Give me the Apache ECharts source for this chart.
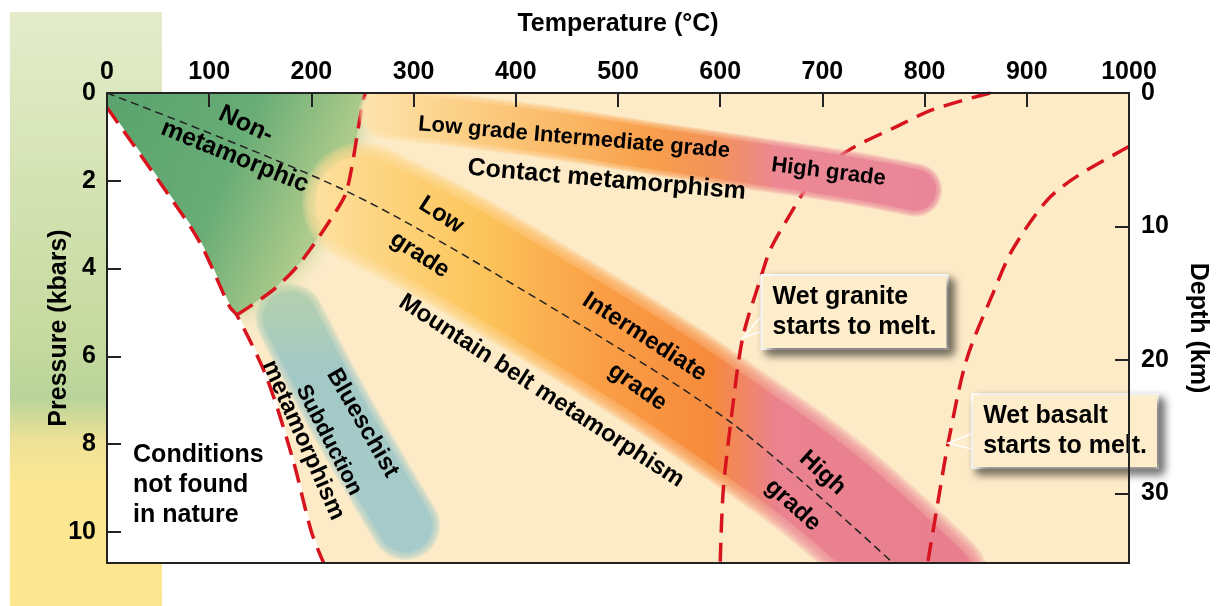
<!DOCTYPE html>
<html>
<head>
<meta charset="utf-8">
<title>Metamorphic conditions</title>
<script src="https://cdn.jsdelivr.net/npm/echarts@6/dist/echarts.min.js"></script>
<style>
  html, body { margin: 0; padding: 0; background: #fff; overflow: hidden; }
  #chart { width: 1216px; height: 606px; }
</style>
</head>
<body>
<div id="chart"></div>
<script>
// temperature (°C), pressure (kbar) pairs
const subductionEdge = [[0, 0.33], [59, 2.28], [91, 3.41], [120, 4.87], [127, 5.06], [156, 6.47], [182, 8.36], [200, 10.0], [212, 10.71]];
const nonMetaArc = [[127, 5.06], [163, 4.48], [189, 3.87], [225, 2.66], [235, 2.2], [249, 0.38], [253, 0]];
const wetGranite = [[864, 0], [808, 0.38], [773, 0.76], [724, 1.33], [690, 2.0], [665, 2.9], [649, 3.57], [639, 4.26], [622, 5.58], [611, 7.38], [603, 9.05], [600, 10.71]];
const wetBasalt = [[1000, 1.22], [949, 1.9], [920, 2.44], [886, 3.57], [867, 4.56], [841, 6.08], [823, 7.98], [815, 9.05], [803, 10.71]];
const geotherm = [[0, 0], [231, 2.2], [411, 4.55], [610, 7.5], [769, 10.71]];
const contactBand = [[272, 0.45], [336, 0.61], [433, 0.9], [531, 1.25], [629, 1.59], [727, 1.93], [791, 2.21]];
const mountainBand = [[250, 2.5], [330, 3.45], [411, 4.55], [520, 6.1], [610, 7.5], [705, 9.1], [805, 11.2]];
const blueschistBand = [[179, 5.13], [218, 6.88], [257, 8.48], [292, 9.85]];

// text on the diagram
const noteText = ['Non-', 'metamorphic', 'Low grade Intermediate grade', 'High grade', 'Contact metamorphism',
  'Low', 'grade', 'Intermediate', 'grade', 'Mountain belt metamorphism', 'High', 'grade',
  'Blueschist', 'Subduction', 'metamorphism'];
const notePos = [[136, 0.72], [125, 1.45], [457, 1.02], [706, 1.8], [489, 1.98],
  [327, 2.78], [306, 3.69], [526, 5.56], [519, 6.7], [425, 6.79], [700, 8.66], [671, 9.39],
  [250, 7.52], [217, 7.91], [192, 7.91]];
const noteAngle = [-25, -22, -5, -7, -5, -33, -33, -33, -35, -33, -42, -42, -60, -63, -66];
const noteSize = [25, 25, 22, 22, 25, 24, 24, 24, 24, 24, 24, 24, 24, 22, 24];
const conditionsText = 'Conditions\nnot found\nin nature';
const conditionsPos = [25, 8.93];

// callouts
const calloutText = ['Wet granite\nstarts to melt.', 'Wet basalt\nstarts to melt.'];
const calloutAnchor = [[641, 4.99], [847, 7.71]];
const calloutTip = [[622, 5.58], [823, 7.98]];

const FONT = '"Liberation Sans", Arial, Helvetica, sans-serif';
const INK = '#000000';
const RED = '#d7141d';

const chart = echarts.init(document.getElementById('chart'));
const G = echarts.graphic;

// 多边形 (数据坐标)
function polygonSeries(points, style, z) {
  return {
    type: 'custom', coordinateSystem: 'cartesian2d', silent: true, clip: true, z: z,
    data: [0],
    renderItem: (params, api) => ({
      type: 'polygon',
      shape: { points: points.map(p => api.coord(p)) },
      style: style
    })
  };
}

// 模糊的宽带: 外圈叠几层半透明, 中间实心
function bandSeries(data, width, color, z) {
  return {
    type: 'custom', coordinateSystem: 'cartesian2d', silent: true, clip: true, z: z,
    data: [0],
    renderItem: (params, api) => {
      const pts = data.map(p => api.coord(p));
      const children = [];
      const steps = 7;
      for (let k = 0; k < steps; k++) {
        children.push({
          type: 'polyline', shape: { points: pts, smooth: 0.4 },
          style: {
            fill: 'none', stroke: color, opacity: 0.22, lineCap: 'round', lineJoin: 'round',
            lineWidth: width * (1.16 - 0.24 * k / (steps - 1))
          }
        });
      }
      children.push({
        type: 'polyline', shape: { points: pts, smooth: 0.4 },
        style: { fill: 'none', stroke: color, lineWidth: width * 0.9, lineCap: 'round', lineJoin: 'round' }
      });
      return { type: 'group', children: children };
    }
  };
}

function dashed(data, z, extra) {
  return Object.assign({
    type: 'line', data: data, smooth: 0.3, showSymbol: false, silent: true, z: z,
    lineStyle: { color: RED, width: 3.5, type: [19, 10] }
  }, extra || {});
}

const greenFill = new G.LinearGradient(0, 0, 1, 0.5, [
  { offset: 0, color: '#5aa36c' }, { offset: 0.5, color: '#68ac76' },
  { offset: 0.78, color: '#9ec486' }, { offset: 1, color: '#c7d797' }
]);
const contactColor = new G.LinearGradient(0, 0, 1, 0, [
  { offset: 0, color: '#fde3ad' }, { offset: 0.15, color: '#fcd28a' },
  { offset: 0.35, color: '#fab866' }, { offset: 0.5, color: '#f89f4b' },
  { offset: 0.62, color: '#f3925c' }, { offset: 0.72, color: '#ec8893' },
  { offset: 1, color: '#e9879a' }
]);
const mountainColor = new G.LinearGradient(0, 0, 1, 0, [
  { offset: 0, color: '#fde0a0' }, { offset: 0.12, color: '#fdd27a' },
  { offset: 0.25, color: '#fcc55c' }, { offset: 0.43, color: '#fa9f46' },
  { offset: 0.6, color: '#f68a3c' }, { offset: 0.66, color: '#ef8570' },
  { offset: 0.7, color: '#ea8290' }, { offset: 1, color: '#e97f8e' }
]);
const blueColor = new G.LinearGradient(0, 0, 0, 1, [
  { offset: 0, color: '#b4d0ad' }, { offset: 0.3, color: '#a3c9c6' }, { offset: 1, color: '#a6cbca' }
]);

const axisFont = { fontFamily: FONT, fontWeight: 'bold', fontSize: 25, color: INK };
const axisLine = { show: true, onZero: false, lineStyle: { color: '#222', width: 2 } };
const axisTick = { show: true, inside: true, length: 14, lineStyle: { color: '#222', width: 2 } };
const intOnly = v => (Number.isInteger(v) ? String(v) : '');

const series = [
  polygonSeries([[0, 0]].concat(subductionEdge.slice(0, 5), nonMetaArc.slice(1)), {
    fill: greenFill, shadowBlur: 22, shadowColor: 'rgba(150,196,128,0.75)'
  }, 1),
  bandSeries(blueschistBand, 60, blueColor, 1),
  polygonSeries(subductionEdge.concat([[0, 10.71]]), { fill: '#ffffff' }, 3),
  bandSeries(mountainBand, 104, mountainColor, 4),
  dashed(subductionEdge, 5, { lineStyle: { color: '#ffffff', width: 2.5 } }),
  dashed(subductionEdge, 6),
  dashed(nonMetaArc, 6),
  dashed(wetGranite, 6),
  dashed(wetBasalt, 6),
  bandSeries(contactBand, 46, contactColor, 7),
  {
    type: 'line', data: geotherm, smooth: 0.3, showSymbol: false, silent: true, z: 8,
    lineStyle: { color: '#222', width: 1.5, type: [8, 5] }
  },
  {
    type: 'custom', coordinateSystem: 'cartesian2d', silent: true, z: 9,
    data: calloutTip.map((t, i) => i),
    renderItem: (params, api) => {
      const i = params.dataIndex;
      const a = calloutAnchor[i];
      return {
        type: 'polygon',
        shape: { points: [api.coord(calloutTip[i]), api.coord([a[0] + 2, a[1] + 0.02]), api.coord([a[0] + 2, a[1] + 0.42])] },
        style: { fill: '#fdedcb', stroke: '#ffffff', lineWidth: 1.5 }
      };
    }
  },
  {
    type: 'scatter', silent: true, z: 9, symbolSize: 1,
    itemStyle: { color: 'rgba(0,0,0,0)', opacity: 1 },
    label: { show: true, position: 'inside', fontFamily: FONT, fontWeight: 'bold', color: INK },
    data: noteText.map((t, i) => ({
      value: notePos[i],
      label: { formatter: t, rotate: noteAngle[i], fontSize: noteSize[i] }
    })).concat([{
      value: conditionsPos,
      label: { formatter: conditionsText, position: 'right', distance: 0, align: 'left', fontSize: 25, lineHeight: 30 }
    }])
  },
  {
    type: 'scatter', silent: true, z: 10, symbolSize: 1,
    itemStyle: { color: 'rgba(0,0,0,0)', opacity: 1 },
    label: {
      show: true, position: 'right', distance: 0, align: 'left',
      fontFamily: FONT, fontWeight: 'bold', fontSize: 25, lineHeight: 30, color: INK,
      backgroundColor: '#fdedcb', borderColor: '#ffffff', borderWidth: 2,
      padding: [6, 10, 6, 10],
      shadowColor: 'rgba(0,0,0,0.6)', shadowBlur: 9, shadowOffsetX: 5, shadowOffsetY: 5
    },
    data: calloutText.map((t, i) => ({ value: calloutAnchor[i], label: { formatter: t } }))
  }
];

chart.setOption({
  animation: false,
  backgroundColor: '#ffffff',
  graphic: [{
    type: 'rect', z: -10, silent: true,
    shape: { x: 10, y: 12, width: 152, height: 594 },
    style: {
      fill: new G.LinearGradient(0, 0, 0, 1, [
        { offset: 0, color: '#e4ecca' }, { offset: 0.55, color: '#c6da9f' },
        { offset: 0.65, color: '#b8d49a' }, { offset: 0.72, color: '#eee296' },
        { offset: 0.8, color: '#fde792' }, { offset: 1, color: '#fde690' }
      ])
    }
  }],
  grid: {
    left: 107, right: 87, top: 93, bottom: 43,
    outerBoundsMode: 'none',
    show: true, backgroundColor: '#fdebc8', borderWidth: 0
  },
  xAxis: [{
    type: 'value', position: 'top', min: 0, max: 1000, interval: 100, z: 12,
    name: 'Temperature (°C)', nameLocation: 'middle', nameGap: 56, nameMoveOverlap: false, nameTextStyle: axisFont,
    axisLine: axisLine, axisTick: axisTick,
    axisLabel: Object.assign({ margin: 8, formatter: v => String(v) }, axisFont),
    splitLine: { show: false }
  }, {
    type: 'value', position: 'bottom', min: 0, max: 1000, z: 12,
    axisLine: axisLine, axisTick: { show: false }, axisLabel: { show: false }, splitLine: { show: false }
  }],
  yAxis: [{
    type: 'value', position: 'left', inverse: true, min: 0, max: 10.71, interval: 2, z: 12,
    name: 'Pressure (kbars)', nameLocation: 'middle', nameRotate: 90, nameGap: 35, nameMoveOverlap: false, nameTextStyle: axisFont,
    axisLine: axisLine, axisTick: axisTick,
    axisLabel: Object.assign({ margin: 11, formatter: intOnly }, axisFont),
    splitLine: { show: false }
  }, {
    type: 'value', position: 'right', inverse: true, min: 0, max: 35.2, interval: 10, z: 12,
    name: 'Depth (km)', nameLocation: 'middle', nameRotate: -90, nameGap: 56, nameMoveOverlap: false, nameTextStyle: axisFont,
    axisLine: axisLine, axisTick: axisTick,
    axisLabel: Object.assign({ margin: 12, formatter: intOnly }, axisFont),
    splitLine: { show: false }
  }],
  series: series
});
</script>
</body>
</html>
